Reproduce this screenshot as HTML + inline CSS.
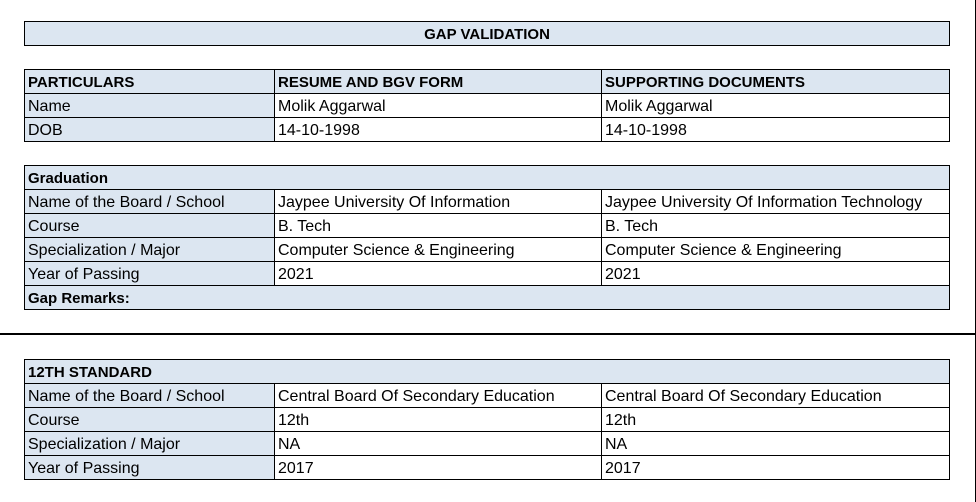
<!DOCTYPE html>
<html><head><style>
body{margin:0;width:976px;height:502px;background:#fff;position:relative;overflow:hidden;font-family:"Liberation Sans",sans-serif;font-size:16px;color:#000}
.b{position:absolute;box-sizing:border-box;border:1px solid #000;background:#dce6f1}
.c{position:absolute;box-sizing:border-box;border:1px solid #000;height:25px;line-height:25px;padding-left:3px;white-space:nowrap;overflow:hidden}
.bl{background:#dce6f1}.w{background:#fff}.bd{font-weight:bold;font-size:15px}
</style></head><body>
<div class="b" style="left:24px;top:21px;width:926px;height:25px;text-align:center;line-height:25px;font-weight:bold;font-size:15px">GAP VALIDATION</div>
<div style="position:absolute;left:975px;top:0;width:1px;height:502px;background:#000"></div>
<div style="position:absolute;left:0;top:333px;width:976px;height:2px;background:#000"></div>
<div id="t"></div>
<script>
function row(y,a,b,c,bold,full){
 let h='';
 if(full){h+=`<div class="c bl bd" style="left:24px;top:${y}px;width:926px">${a}</div>`;}
 else{
  h+=`<div class="c bl ${bold?'bd':''}" style="left:24px;top:${y}px;width:251px">${a}</div>`;
  h+=`<div class="c ${bold?'bl bd':'w'}" style="left:274px;top:${y}px;width:328px">${b}</div>`;
  h+=`<div class="c ${bold?'bl bd':'w'}" style="left:601px;top:${y}px;width:349px">${c}</div>`;
 }
 return h;
}
let h='';
h+=row(69,'PARTICULARS','RESUME AND BGV FORM','SUPPORTING DOCUMENTS',1);
h+=row(93,'Name','Molik Aggarwal','Molik Aggarwal');
h+=row(117,'DOB','14-10-1998','14-10-1998');
h+=row(165,'Graduation','','',1,1);
h+=row(189,'Name of the Board / School','Jaypee University Of Information','Jaypee University Of Information Technology');
h+=row(213,'Course','B. Tech','B. Tech');
h+=row(237,'Specialization / Major','Computer Science &amp; Engineering','Computer Science &amp; Engineering');
h+=row(261,'Year of Passing','2021','2021');
h+=row(285,'Gap Remarks:','','',1,1);
h+=row(359,'12TH STANDARD','','',1,1);
h+=row(383,'Name of the Board / School','Central Board Of Secondary Education','Central Board Of Secondary Education');
h+=row(407,'Course','12th','12th');
h+=row(431,'Specialization / Major','NA','NA');
h+=row(455,'Year of Passing','2017','2017');
document.getElementById('t').innerHTML=h;
</script>
</body></html>
